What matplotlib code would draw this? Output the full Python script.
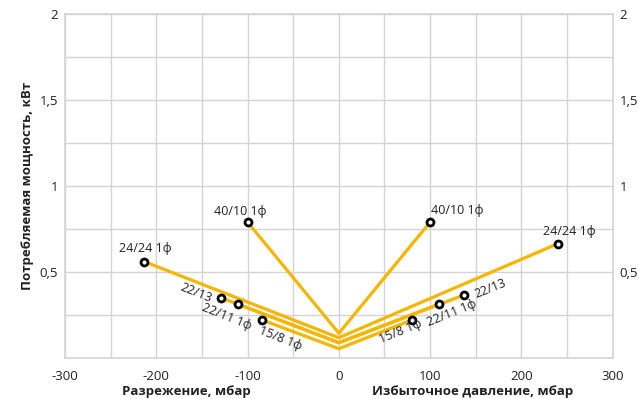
import matplotlib
matplotlib.use("Agg")
import matplotlib.pyplot as plt

plt.rcParams['font.family'] = ['Open Sans', 'DejaVu Sans']
plt.rcParams['axes.unicode_minus'] = False

# pressure (mbar) at left end, 0, right end; power (kW) at same points
names = ['40/10 1ф', '24/24 1ф', '22/13', '22/11 1ф', '15/8 1ф']
x_left = [-100, -213, -129, -111, -84]
y_left = [0.79, 0.56, 0.35, 0.314, 0.221]
y_zero = [0.144, 0.118, 0.089, 0.089, 0.054]
x_right = [100, 240, 137, 110, 80]
y_right = [0.79, 0.665, 0.366, 0.314, 0.221]

# label offsets in pixels and rotation (left side, right side)
left_lab = [(-7, 11, 0), (1, 13, 0), (-25, 5, -22), (-11, -13, -22), (18, -18, -22)]
right_lab = [(27, 12, 0), (11, 12, 0), (27, 6, 22), (13, -9, 22), (-11, -12, 22)]

line_col = '#f7b500'
grid_col = '#d4d4d4'
txt_col = '#222222'

fig = plt.figure(figsize=(6.39, 3.99), dpi=100)
ax = fig.add_axes([65 / 639, 1 - 358 / 399, (612.7 - 65) / 639, (358 - 14) / 399])

for i, name in enumerate(names):
    xs = [x_left[i], 0, x_right[i]]
    ys = [y_left[i], y_zero[i], y_right[i]]
    ax.plot(xs, ys, color=line_col, lw=2.3, zorder=3, solid_joinstyle='miter')
    ax.plot([x_left[i], x_right[i]], [y_left[i], y_right[i]], 'o', ls='none',
            ms=5, mfc='white', mec='black', mew=2, zorder=4)
    for (px, py, rot), xv, yv in [(left_lab[i], x_left[i], y_left[i]),
                                  (right_lab[i], x_right[i], y_right[i])]:
        ax.annotate(name, (xv, yv), xytext=(px, py), textcoords='offset pixels',
                    ha='center', va='center', rotation=rot, fontsize=9,
                    color=txt_col, zorder=5)

ax.set_xlim(-300, 300)
ax.set_ylim(0, 2)
ax.set_xticks(range(-300, 301, 100))
ax.set_xticks(range(-250, 300, 100), minor=True)
ax.set_yticks([0.5, 1, 1.5, 2])
ax.set_yticks([0.25, 0.75, 1.25, 1.75], minor=True)
ax.set_yticklabels(['0,5', '1', '1,5', '2'])
ax.grid(True, which='both', color=grid_col, lw=1)
ax.set_axisbelow(True)
for s in ax.spines.values():
    s.set_color(grid_col)
    s.set_linewidth(1.2)
ax.tick_params(which='both', length=0, labelsize=9.5, colors=txt_col, pad=9,
               labelright=True)
ax.tick_params(axis='y', pad=5)

ax.set_ylabel('Потребляемая мощность, кВт', fontsize=9.5, fontweight='bold',
              color=txt_col, labelpad=4)
fig.text(186 / 639, 7 / 399, 'Разрежение, мбар', ha='center', va='center',
         fontsize=9.5, fontweight='bold', color=txt_col)
fig.text(473 / 639, 7 / 399, 'Избыточное давление, мбар', ha='center', va='center',
         fontsize=9.5, fontweight='bold', color=txt_col)

fig.savefig('out.png', dpi=100)
